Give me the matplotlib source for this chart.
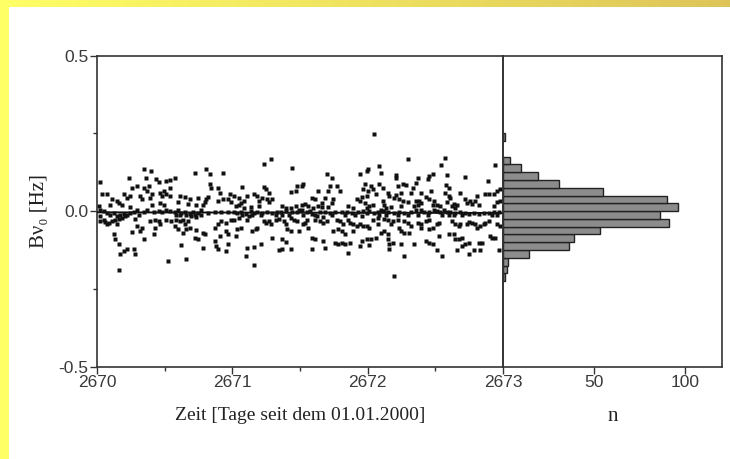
import numpy as np
import matplotlib
matplotlib.use("Agg")
import matplotlib.pyplot as plt
from matplotlib.patches import Rectangle

# ---------------- data ----------------
# scatter points: (days since 01.01.2000, B*nu0 in Hz), grouped per half day
seg_2670_0 = [(0.345,0.136),(0.399,0.129),(0.234,0.105),(0.365,0.105),(0.438,0.102),(0.456,0.094),(0.020,0.094),
 (0.296,0.080),(0.259,0.075),(0.345,0.075),(0.382,0.080),(0.369,0.064),(0.406,0.054),(0.463,0.059),(0.493,0.064),
 (0.037,0.054),(0.074,0.054),(0.111,0.038),(0.148,0.032),(0.197,0.054),(0.222,0.043),(0.246,0.048),(0.320,0.048),
 (0.333,0.038),(0.394,0.043),(0.480,0.048),(0.099,0.021),(0.160,0.027),(0.185,0.021),(0.246,0.013),(0.406,0.021),
 (0.468,0.027),(0.493,0.021),(0.012,0.016),(0.025,0.005),(0.049,0.000),(0.074,-0.005),(0.099,-0.011),(0.123,-0.005),
 (0.148,-0.016),(0.172,-0.011),(0.197,-0.009),(0.222,-0.013),(0.246,-0.005),(0.271,-0.002),(0.296,0.002),(0.308,-0.011),
 (0.345,-0.002),(0.369,0.002),(0.419,-0.002),(0.456,0.000),(0.480,-0.002),(0.025,-0.016),(0.049,-0.027),(0.062,-0.034),
 (0.086,-0.038),(0.111,-0.032),(0.135,-0.027),(0.160,-0.024),(0.185,-0.021),(0.209,-0.016),(0.283,-0.024),(0.020,-0.032),
 (0.074,-0.043),(0.148,-0.043),(0.394,-0.032),(0.431,-0.027),(0.456,-0.032),(0.296,-0.048),(0.333,-0.054),(0.259,-0.066),
 (0.320,-0.064),(0.431,-0.054),(0.468,-0.043),(0.419,-0.075),(0.345,-0.091),(0.123,-0.073),(0.135,-0.091),(0.160,-0.105),
 (0.197,-0.129),(0.222,-0.123),(0.271,-0.123),(0.283,-0.139),(0.172,-0.137),(0.160,-0.188)]
seg_2670_5 = [(0.222,0.121),(0.308,0.136),(0.333,0.118),(0.431,0.121),(0.074,0.105),(0.037,0.099),(0.012,0.096),
 (0.333,0.086),(0.345,0.075),(0.394,0.073),(0.406,0.059),(0.037,0.073),(0.012,0.054),(0.037,0.048),(0.111,0.048),
 (0.148,0.045),(0.185,0.038),(0.246,0.043),(0.320,0.045),(0.308,0.038),(0.394,0.034),(0.431,0.038),(0.480,0.054),
 (0.468,0.038),(0.493,0.030),(0.099,0.030),(0.172,0.024),(0.234,0.021),(0.283,0.021),(0.296,0.030),(0.012,0.005),
 (0.037,0.000),(0.074,-0.002),(0.099,0.002),(0.123,-0.005),(0.148,-0.002),(0.185,-0.009),(0.209,-0.002),(0.222,-0.011),
 (0.246,-0.005),(0.271,0.002),(0.320,-0.005),(0.369,-0.002),(0.419,-0.002),(0.468,-0.002),(0.086,-0.011),(0.111,-0.013),
 (0.160,-0.011),(0.197,-0.016),(0.234,-0.019),(0.271,-0.011),(0.012,-0.027),(0.049,-0.032),(0.086,-0.027),(0.111,-0.032),
 (0.135,-0.027),(0.172,-0.032),(0.148,-0.043),(0.074,-0.048),(0.099,-0.056),(0.160,-0.059),(0.185,-0.054),(0.135,-0.070),
 (0.234,-0.062),(0.283,-0.070),(0.222,-0.086),(0.246,-0.091),(0.296,-0.075),(0.369,-0.054),(0.394,-0.043),(0.419,-0.032),
 (0.456,-0.038),(0.493,-0.027),(0.456,-0.064),(0.406,-0.080),(0.468,-0.075),(0.369,-0.096),(0.382,-0.113),(0.394,-0.123),
 (0.468,-0.107),(0.456,-0.129),(0.283,-0.118),(0.123,-0.109),(0.025,-0.159),(0.160,-0.153)]
seg_2671_0 = [(0.283,0.166),(0.234,0.150),(0.443,0.139),(0.074,0.078),(0.234,0.077),(0.246,0.070),(0.480,0.080),
 (0.431,0.061),(0.468,0.064),(0.012,0.048),(0.049,0.043),(0.111,0.048),(0.160,0.054),(0.185,0.048),(0.197,0.032),
 (0.222,0.043),(0.271,0.059),(0.259,0.038),(0.296,0.038),(0.271,0.030),(0.062,0.027),(0.086,0.032),(0.025,0.016),
 (0.049,0.021),(0.086,0.011),(0.135,0.013),(0.197,0.016),(0.369,0.016),(0.394,0.011),(0.431,0.011),(0.468,0.016),
 (0.493,0.005),(0.012,-0.002),(0.037,-0.005),(0.062,-0.002),(0.099,-0.009),(0.135,0.000),(0.160,-0.005),(0.185,-0.002),
 (0.222,-0.005),(0.259,-0.002),(0.296,-0.005),(0.333,-0.002),(0.357,-0.002),(0.394,0.000),(0.443,-0.002),(0.480,-0.002),
 (0.074,-0.013),(0.148,-0.013),(0.209,-0.011),(0.320,-0.013),(0.369,-0.011),(0.419,-0.011),(0.012,-0.027),(0.049,-0.021),
 (0.111,-0.027),(0.123,-0.016),(0.234,-0.032),(0.246,-0.038),(0.271,-0.032),(0.283,-0.043),(0.320,-0.027),(0.345,-0.024),
 (0.382,-0.032),(0.394,-0.043),(0.431,-0.021),(0.456,-0.027),(0.480,-0.032),(0.037,-0.059),(0.062,-0.054),(0.148,-0.064),
 (0.172,-0.059),(0.185,-0.054),(0.406,-0.059),(0.431,-0.064),(0.493,-0.064),(0.025,-0.080),(0.296,-0.086),(0.369,-0.091),
 (0.394,-0.099),(0.111,-0.118),(0.160,-0.116),(0.209,-0.107),(0.099,-0.145),(0.345,-0.126),(0.369,-0.123),(0.431,-0.123),
 (0.160,-0.172)]
seg_2671_5 = [(0.197,0.120),(0.239,0.105),(0.443,0.120),(0.493,0.129),(0.025,0.086),(0.012,0.080),(0.222,0.080),
 (0.271,0.080),(0.296,0.064),(0.135,0.064),(0.209,0.064),(0.480,0.086),(0.468,0.070),(0.086,0.043),(0.111,0.038),
 (0.185,0.043),(0.246,0.038),(0.234,0.027),(0.160,0.027),(0.419,0.038),(0.456,0.045),(0.493,0.048),(0.443,0.032),
 (0.480,0.027),(0.012,0.021),(0.037,0.024),(0.062,0.016),(0.099,0.011),(0.135,0.016),(0.160,0.013),(0.209,0.013),
 (0.357,0.016),(0.394,0.011),(0.493,0.011),(0.012,0.002),(0.049,-0.002),(0.074,0.000),(0.086,-0.009),(0.111,-0.011),
 (0.148,-0.002),(0.185,-0.002),(0.222,-0.005),(0.259,-0.002),(0.308,-0.002),(0.345,-0.002),(0.382,-0.005),(0.431,-0.002),
 (0.468,0.000),(0.493,-0.005),(0.025,-0.011),(0.123,-0.016),(0.172,-0.019),(0.234,-0.013),(0.333,-0.013),(0.406,-0.011),
 (0.456,-0.016),(0.049,-0.027),(0.111,-0.027),(0.148,-0.032),(0.172,-0.038),(0.197,-0.032),(0.271,-0.027),(0.296,-0.032),
 (0.320,-0.043),(0.357,-0.027),(0.369,-0.038),(0.394,-0.043),(0.419,-0.048),(0.443,-0.043),(0.468,-0.048),(0.025,-0.043),
 (0.037,-0.038),(0.062,-0.054),(0.246,-0.064),(0.283,-0.059),(0.308,-0.064),(0.333,-0.075),(0.394,-0.064),(0.493,-0.048),
 (0.086,-0.086),(0.111,-0.091),(0.172,-0.096),(0.259,-0.102),(0.283,-0.107),(0.308,-0.102),(0.333,-0.107),(0.369,-0.102),
 (0.456,-0.096),(0.443,-0.113),(0.493,-0.091),(0.086,-0.123),(0.185,-0.118),(0.357,-0.134)]
seg_2672_0 = [(0.044,0.249),(0.296,0.166),(0.086,0.145),(0.000,0.134),(0.099,0.123),(0.209,0.116),(0.209,0.107),
 (0.369,0.107),(0.456,0.113),(0.480,0.120),(0.443,0.102),(0.025,0.080),(0.086,0.086),(0.111,0.075),(0.037,0.070),
 (0.222,0.080),(0.259,0.086),(0.283,0.084),(0.333,0.075),(0.357,0.091),(0.320,0.059),(0.394,0.059),(0.468,0.064),
 (0.000,0.064),(0.062,0.054),(0.148,0.059),(0.160,0.048),(0.209,0.051),(0.246,0.059),(0.234,0.038),(0.259,0.032),
 (0.296,0.030),(0.197,0.043),(0.431,0.045),(0.456,0.038),(0.493,0.032),(0.357,0.032),(0.382,0.034),(0.012,0.016),
 (0.037,0.021),(0.111,0.032),(0.123,0.021),(0.135,0.011),(0.172,0.013),(0.246,0.016),(0.345,0.016),(0.369,0.021),
 (0.394,0.027),(0.480,0.021),(0.012,0.000),(0.049,-0.005),(0.074,-0.002),(0.099,0.002),(0.123,0.000),(0.148,-0.002),
 (0.197,-0.005),(0.234,-0.002),(0.271,-0.005),(0.320,-0.002),(0.357,0.005),(0.394,0.005),(0.419,-0.002),(0.456,-0.002),
 (0.493,0.002),(0.086,-0.011),(0.135,-0.013),(0.222,-0.011),(0.296,-0.011),(0.369,-0.013),(0.443,-0.011),(0.037,-0.027),
 (0.074,-0.021),(0.123,-0.024),(0.148,-0.027),(0.185,-0.032),(0.222,-0.027),(0.271,-0.032),(0.296,-0.038),(0.369,-0.038),
 (0.394,-0.043),(0.431,-0.032),(0.456,-0.027),(0.074,-0.043),(0.172,-0.043),(0.012,-0.054),(0.099,-0.070),(0.123,-0.064),
 (0.148,-0.075),(0.234,-0.054),(0.246,-0.064),(0.271,-0.070),(0.320,-0.048),(0.308,-0.070),(0.394,-0.054),(0.456,-0.059),
 (0.480,-0.054),(0.025,-0.091),(0.062,-0.086),(0.148,-0.091),(0.160,-0.107),(0.185,-0.102),(0.246,-0.107),(0.345,-0.107),
 (0.431,-0.096),(0.456,-0.102),(0.480,-0.107),(0.012,-0.109),(0.160,-0.123),(0.271,-0.145),(0.197,-0.207)]
seg_2672_5 = [(0.069,0.172),(0.044,0.147),(0.443,0.147),(0.086,0.116),(0.217,0.110),(0.387,0.096),(0.079,0.084),
 (0.099,0.075),(0.069,0.059),(0.185,0.059),(0.099,0.048),(0.111,0.041),(0.308,0.048),(0.369,0.054),(0.394,0.056),
 (0.456,0.064),(0.480,0.070),(0.431,0.054),(0.086,0.030),(0.135,0.024),(0.222,0.038),(0.234,0.027),(0.259,0.032),
 (0.271,0.024),(0.296,0.032),(0.320,0.021),(0.456,0.030),(0.480,0.032),(0.012,0.021),(0.037,0.016),(0.123,0.016),
 (0.148,0.011),(0.160,0.021),(0.431,0.016),(0.012,0.000),(0.037,-0.002),(0.062,0.002),(0.086,-0.002),(0.111,-0.002),
 (0.148,-0.005),(0.185,-0.002),(0.222,-0.005),(0.246,-0.009),(0.283,-0.005),(0.320,-0.009),(0.357,-0.005),(0.394,-0.005),
 (0.431,-0.002),(0.468,-0.002),(0.049,-0.013),(0.099,-0.011),(0.135,-0.011),(0.197,-0.013),(0.419,-0.011),(0.456,-0.011),
 (0.025,-0.038),(0.012,-0.043),(0.123,-0.032),(0.148,-0.043),(0.172,-0.048),(0.185,-0.043),(0.234,-0.041),(0.246,-0.034),
 (0.271,-0.038),(0.296,-0.043),(0.308,-0.054),(0.333,-0.048),(0.357,-0.043),(0.369,-0.038),(0.394,-0.032),(0.456,-0.043),
 (0.480,-0.048),(0.025,-0.080),(0.099,-0.075),(0.135,-0.075),(0.148,-0.091),(0.172,-0.091),(0.197,-0.086),(0.222,-0.107),
 (0.246,-0.102),(0.197,-0.113),(0.320,-0.102),(0.345,-0.102),(0.406,-0.080),(0.419,-0.086),(0.443,-0.086),(0.012,-0.126),
 (0.160,-0.126),(0.246,-0.139),(0.283,-0.126),(0.333,-0.126),(0.468,-0.126),(0.049,-0.145)]
segments = {2670.0: seg_2670_0, 2670.5: seg_2670_5, 2671.0: seg_2671_0,
            2671.5: seg_2671_5, 2672.0: seg_2672_0, 2672.5: seg_2672_5}

# horizontal fit line
fit_t = [2670.0, 2673.0]
fit_y = [-0.004, -0.006]

# histogram (lower bin edge in Hz, counts)
bin_lo = [-0.225, -0.2, -0.175, -0.15, -0.125, -0.1, -0.075, -0.05, -0.025,
          0.0, 0.025, 0.05, 0.075, 0.1, 0.125, 0.15, 0.225]
counts = [1, 2, 3, 14, 36, 39, 53, 91, 86, 96, 90, 55, 31, 19, 10, 4, 1]
bin_w = 0.025

x_ticks = [2670, 2671, 2672, 2673]
y_ticks = [-0.5, 0.0, 0.5]
n_ticks = [50, 100]

# ---------------- figure ----------------
W, H = 730, 459
fig = plt.figure(figsize=(W / 100, H / 100), dpi=100)

# yellow frame (gradient) behind a white panel
bg = fig.add_axes([0, 0, 1, 1])
bg.set_xlim(0, W); bg.set_ylim(H, 0); bg.axis("off")
grad = np.linspace(0, 1, 256)[None, :]
c0 = np.array([1.0, 1.0, 0.40]); c1 = np.array([0.87, 0.77, 0.35])
img = c0[None, None, :] * (1 - grad[..., None]) + c1[None, None, :] * grad[..., None]
bg.imshow(img, extent=[0, W, H, 0], aspect="auto", zorder=0)
bg.add_patch(Rectangle((9, 7), W - 9, H - 7, facecolor="white", edgecolor="none", zorder=1))

serif = ["Liberation Serif", "DejaVu Serif"]
sans = ["Liberation Sans", "DejaVu Sans"]
spine_c = "#333333"
tick_c = "#3a3a3a"

l, r = 97 / W, 503 / W
rr = 721.7 / W
b, t = 1 - 366.7 / H, 1 - 55.5 / H

ax = fig.add_axes([l, b, r - l, t - b])
ax.set_facecolor("none")
for seg_start, pts in segments.items():
    tt = [seg_start + p[0] for p in pts]
    yy = [p[1] for p in pts]
    ax.plot(tt, yy, ls="none", marker="s", ms=3.0, mfc="#111111", mec="none")
ax.plot(fit_t, fit_y, color="#111111", lw=1.4, zorder=3)
ax.set_xlim(2670, 2673)
ax.set_ylim(-0.5, 0.5)
ax.set_xticks(x_ticks)
ax.set_xticks([2670.5, 2671.5, 2672.5], minor=True)
ax.set_yticks(y_ticks)
ax.set_yticks([-0.25, 0.25], minor=True)
ax.set_yticklabels([f"{v:.1f}" for v in y_ticks])
ax.set_xticklabels([str(v) for v in x_ticks])
ax.tick_params(which="major", direction="out", length=5, width=1, color=spine_c,
               labelsize=12.5, labelcolor=tick_c, pad=1)
ax.tick_params(which="minor", direction="out", length=3, width=1, color=spine_c)
for lab in ax.get_xticklabels() + ax.get_yticklabels():
    lab.set_family(sans)
for s in ax.spines.values():
    s.set_color(spine_c); s.set_linewidth(1.2)
ax.set_xlabel("Zeit [Tage seit dem 01.01.2000]", family=serif, fontsize=14, color="#222222", labelpad=12)
ax.set_ylabel("Bν₀ [Hz]", family=serif, fontsize=15, color="#222222", labelpad=7)

ah = fig.add_axes([r, b, rr - r, t - b])
ah.set_facecolor("none")
ah.barh([v + bin_w / 2 for v in bin_lo], counts, height=bin_w, left=0,
        color="#8c8c8c", edgecolor="#222222", linewidth=1.0)
ah.set_ylim(-0.5, 0.5)
ah.set_xlim(0, 120)
ah.set_yticks([])
ah.set_xticks(n_ticks)
ah.set_xticklabels([str(v) for v in n_ticks])
ah.tick_params(direction="out", length=5, width=1, color=spine_c, labelsize=12.5,
               labelcolor=tick_c, pad=1)
for lab in ah.get_xticklabels():
    lab.set_family(sans)
for s in ah.spines.values():
    s.set_color(spine_c); s.set_linewidth(1.2)
ah.set_xlabel("n", family=serif, fontsize=15, color="#222222", labelpad=12)

fig.savefig("out.png", dpi=100)
